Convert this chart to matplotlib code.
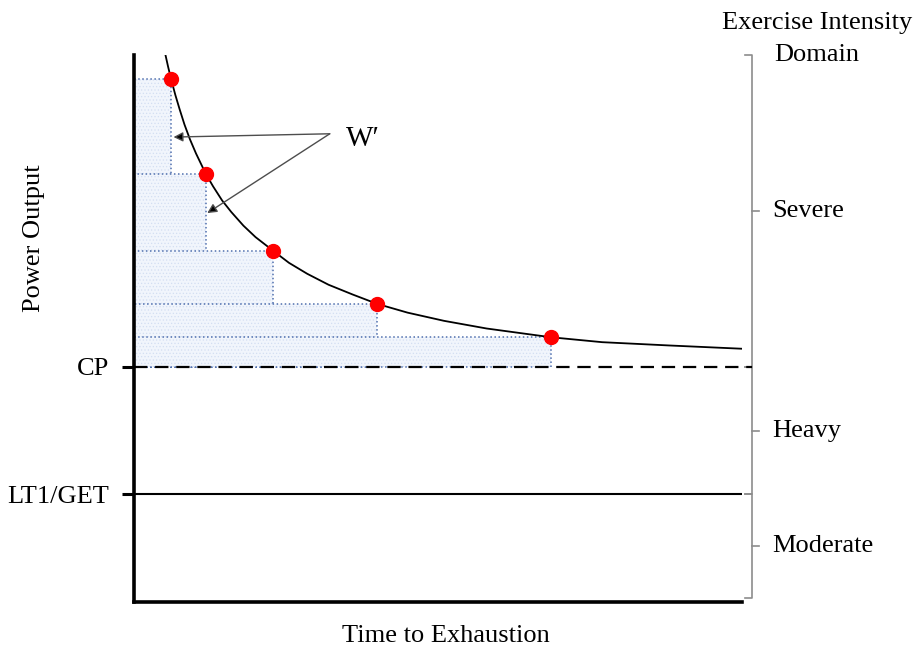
import matplotlib.pyplot as plt
from matplotlib.patches import Rectangle

plt.rcParams['font.family'] = ['Liberation Serif', 'DejaVu Serif']
plt.rcParams['hatch.linewidth'] = 0.5

# power-duration curve, arbitrary units (time 0-100, power 0-100)
curve_t = [5.2, 5.6, 6.1, 6.8, 7.5, 8.3, 9.2, 10.2, 11.8, 13.0, 14.5, 16.0,
           18.0, 20.0, 22.9, 25.5, 28.5, 32.0, 36.0, 40.0, 45.0, 51.0, 58.0,
           68.6, 77.0, 88.0, 100.0]
curve_p = [99.9, 97.9, 95.6, 92.7, 90.1, 87.3, 84.6, 82.0, 78.3, 76.0, 73.4,
           71.3, 68.8, 66.7, 64.2, 62.0, 60.0, 58.0, 56.2, 54.5, 52.9, 51.4,
           50.0, 48.4, 47.5, 46.9, 46.3]

# exhaustive trials (time to exhaustion, power)
trial_t = [6.1, 11.8, 22.9, 40.0, 68.6]
trial_p = [95.6, 78.3, 64.2, 54.5, 48.4]

cp = 43.0
lt1 = 19.7

domains = ['Severe', 'Heavy', 'Moderate']
domain_top = [100.0, cp, lt1]
domain_bottom = [cp, lt1, 0.7]

fig = plt.figure(figsize=(9.14, 6.48), dpi=100)
ax = fig.add_axes([0.1466, 0.0710, 0.6652, 0.8441])
ax.set_xlim(0, 100)
ax.set_ylim(0, 100)

# W' boxes, narrowest first so each wider one covers the lower part
for i, (t, p) in enumerate(zip(trial_t, trial_p)):
    z = 1 + i * 0.1
    ax.add_patch(Rectangle((0, cp), t, p - cp, facecolor='#f1f5fc',
                           edgecolor='#d3def2', hatch='.....', lw=0, zorder=z))
    ax.add_patch(Rectangle((0, cp), t, p - cp, fill=False,
                           edgecolor='#4f6fae', ls=':', lw=1.1, zorder=z + 0.05))

ax.plot(curve_t, curve_p, color='black', lw=1.3, zorder=3)
ax.plot(trial_t, trial_p, 'o', color='#ff0000', ms=10, mec='#ff0000', zorder=4)

ax.plot([0, 101.6], [cp, cp], color='black', lw=1.6, ls=(0, (6, 3.5)),
        clip_on=False, zorder=3)
ax.plot([0, 100], [lt1, lt1], color='black', lw=1.5, zorder=3)

# W' annotation
ax.text(34.8, 84.6, 'W′', fontsize=21, va='center', ha='left')
for end in [(6.5, 85.0), (12.05, 71.1)]:
    ax.annotate('', xy=end, xytext=(32.2, 85.6),
                arrowprops=dict(arrowstyle='-|>', color='#4d4d4d', lw=1.0,
                                mutation_scale=14, shrinkA=0, shrinkB=0,
                                fc='black', ec='#4d4d4d'))

# intensity domain braces
bx = 101.6
for name, top, bot in zip(domains, domain_top, domain_bottom):
    mid = (top + bot) / 2
    ax.plot([bx - 1.15, bx, bx, bx - 1.15], [top, top, bot, bot],
            color='#8c8c8c', lw=1.2, clip_on=False)
    ax.plot([bx, bx + 1.2], [mid, mid], color='#8c8c8c', lw=1.2, clip_on=False)
    ax.text(105.0, mid, name, fontsize=19, va='center', ha='left')

ax.text(112.3, 102.9, 'Exercise Intensity\nDomain', fontsize=19,
        ha='center', va='center', linespacing=1.55)

for s in ['top', 'right']:
    ax.spines[s].set_visible(False)
for s in ['left', 'bottom']:
    ax.spines[s].set_linewidth(2.6)

ax.set_xticks([])
ax.set_yticks([cp, lt1])
ax.set_yticklabels(['CP', 'LT1/GET'], fontsize=19)
ax.tick_params(axis='y', length=9, width=2.2, pad=9)

ax.text(-0.164, 0.665, 'Power Output', fontsize=19, rotation=90,
        ha='center', va='center', transform=ax.transAxes)
ax.set_xlabel('Time to Exhaustion', fontsize=19)
ax.xaxis.set_label_coords(0.513, -0.042, transform=ax.transAxes)
ax.xaxis.label.set_va('top')

fig.savefig('out.png', dpi=100)
